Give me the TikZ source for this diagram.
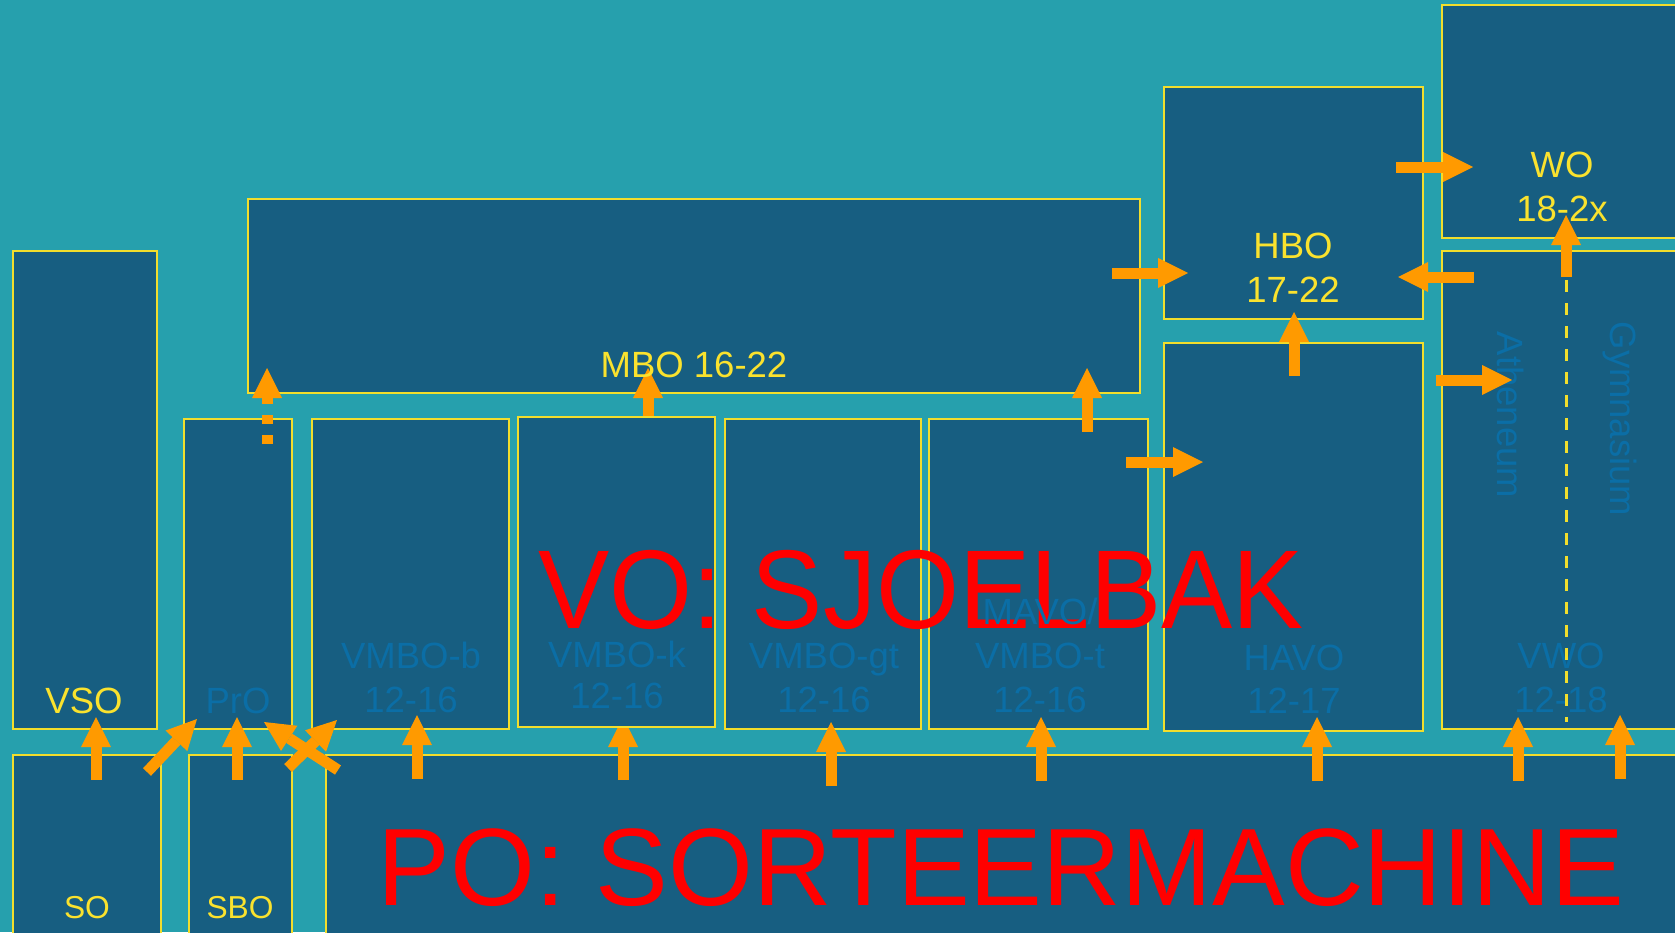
\documentclass[tikz,border=0pt]{standalone}
\usepackage{fontspec}
\setmainfont{Liberation Sans}
\usetikzlibrary{arrows.meta}
\definecolor{bg}{HTML}{26A0AD}
\definecolor{boxblue}{HTML}{175E81}
\definecolor{edgeyellow}{HTML}{F2DE2C}
\definecolor{txtyellow}{HTML}{FAE22E}
\definecolor{arroworange}{HTML}{FF9A00}
\definecolor{faintblue}{HTML}{0B6EA6}
\definecolor{bigred}{HTML}{FF0000}
\begin{document}
\begin{tikzpicture}[x=1pt,y=-1pt,
  box/.style={draw=edgeyellow, fill=boxblue, line width=1.6pt, rectangle, inner sep=0pt, outer sep=0pt, anchor=north west},
  thickbox/.style={box, line width=2.8pt},
  arr/.style={draw=arroworange, line width=11pt, -{Triangle[width=30pt,length=30pt,line width=0pt]}},
  dasharr/.style={arr, dash pattern=on 9pt off 11pt},
  ydash/.style={draw=edgeyellow, line width=3pt, dash pattern=on 12pt off 11pt},
  lbl/.style={inner sep=0pt, outer sep=0pt, anchor=base, font=\fontsize{36.5}{40}\selectfont},
  ylbl/.style={lbl, text=txtyellow},
  slbl/.style={ylbl, font=\fontsize{31.7}{36}\selectfont},
  flbl/.style={lbl, text=faintblue},
  redlbl/.style={inner sep=0pt, outer sep=0pt, anchor=base, text=bigred}
]
\clip (0,0) rectangle (1675,932);
\fill[bg] (0,0) rectangle (1675,932);

% boxes
\node[box, minimum width=144pt, minimum height=478pt] (vso) at (13,251) {};
\node[box, minimum width=108pt, minimum height=310pt] (pro) at (184,419) {};
\node[box, minimum width=197pt, minimum height=310pt] (vmbob) at (312,419) {};
\node[box, minimum width=196pt, minimum height=310pt] (vmbogt) at (725,419) {};
\node[box, minimum width=219pt, minimum height=310pt] (vmbot) at (929,419) {};
\node[box, minimum width=259pt, minimum height=388pt] (havo) at (1164,343) {};
\node[box, minimum width=258pt, minimum height=478pt] (vwo) at (1442,251) {};
\node[box, minimum width=892pt, minimum height=194pt] (mbo) at (248,199) {};
\node[box, minimum width=259pt, minimum height=232pt] (hbo) at (1164,87) {};
\node[box, minimum width=258pt, minimum height=233pt] (wo) at (1442,5) {};
\node[thickbox, minimum width=148pt, minimum height=195pt] (so) at (13,755) {};
\node[thickbox, minimum width=103pt, minimum height=195pt] (sbo) at (189,755) {};
\node[box, line width=1.8pt, minimum width=1374pt, minimum height=195pt] (po) at (326,755) {};

% arrows hidden partly under VMBO-k
\coordinate (a7s) at (623,780);  \coordinate (a7e) at (623,717);
\coordinate (a14s) at (648,430); \coordinate (a14e) at (648,368);
\draw[arr] (a7s) -- (a7e);
\draw[arr] (a14s) -- (a14e);
\node[box, minimum width=197pt, minimum height=310pt] (vmbok) at (518,417) {};

% big red texts
\node[redlbl, font=\fontsize{112}{120}\selectfont, xscale=0.953] (votxt) at (921,628) {VO: SJOELBAK};
\node[redlbl, font=\fontsize{110}{120}\selectfont, xscale=0.992] (potxt) at (1001,905) {PO: SORTEERMACHINE};

% faint labels
\node[flbl] (l1) at (238,713) {PrO};
\node[flbl] (l2) at (411,668) {VMBO-b};
\node[flbl] (l3) at (411,712) {12-16};
\node[flbl] (l4) at (617,667) {VMBO-k};
\node[flbl] (l5) at (617,708) {12-16};
\node[flbl] (l6) at (824,668) {VMBO-gt};
\node[flbl] (l7) at (824,712) {12-16};
\node[flbl] (l8) at (1040,624) {MAVO/};
\node[flbl] (l9) at (1040,668) {VMBO-t};
\node[flbl] (l10) at (1040,712) {12-16};
\node[flbl] (l11) at (1294,670) {HAVO};
\node[flbl] (l12) at (1294,713) {12-17};
\node[flbl] (l13) at (1561,668) {VWO};
\node[flbl] (l14) at (1561,712) {12-18};
\node[flbl, rotate=-90] (l15) at (1497,415) {Atheneum};
\node[flbl, rotate=-90] (l16) at (1610,419) {Gymnasium};

% yellow labels
\node[ylbl] (y1) at (84,713) {VSO};
\node[slbl] (y2) at (87,918) {SO};
\node[slbl] (y3) at (240,918) {SBO};
\node[ylbl] (y4) at (694,377) {MBO 16-22};
\node[ylbl] (y5) at (1293,258) {HBO};
\node[ylbl] (y6) at (1293,302) {17-22};
\node[ylbl] (y7) at (1562,177) {WO};
\node[ylbl] (y8) at (1562,221) {18-2x};

% arrow end points
\coordinate (a1s) at (96,780);   \coordinate (a1e) at (96,717);
\coordinate (a2s) at (147,772);  \coordinate (a2e) at (197,719);
\coordinate (a3s) at (237,780);  \coordinate (a3e) at (237,717);
\coordinate (a4s) at (338,770);  \coordinate (a4e) at (264,722);
\coordinate (a5s) at (288,768);  \coordinate (a5e) at (337,720);
\coordinate (a6s) at (417,779);  \coordinate (a6e) at (417,715);
\coordinate (a8s) at (831,786);  \coordinate (a8e) at (831,722);
\coordinate (a9s) at (1041,781); \coordinate (a9e) at (1041,717);
\coordinate (a10s) at (1317,781); \coordinate (a10e) at (1317,717);
\coordinate (a11s) at (1518,781); \coordinate (a11e) at (1518,717);
\coordinate (a12s) at (1620,779); \coordinate (a12e) at (1620,715);
\coordinate (a13s) at (267,444); \coordinate (a13e) at (267,368);
\coordinate (a15s) at (1087,432); \coordinate (a15e) at (1087,368);
\coordinate (a16s) at (1126,462); \coordinate (a16e) at (1203,462);
\coordinate (a17s) at (1112,273); \coordinate (a17e) at (1188,273);
\coordinate (a18s) at (1294,376); \coordinate (a18e) at (1294,312);
\coordinate (a19s) at (1396,167); \coordinate (a19e) at (1473,167);
\coordinate (a20s) at (1474,277); \coordinate (a20e) at (1398,277);
\coordinate (a21s) at (1566,277); \coordinate (a21e) at (1566,215);
\coordinate (a22s) at (1436,380); \coordinate (a22e) at (1512,380);
\coordinate (d1) at (1566,280); \coordinate (d2) at (1566,722);

\draw[ydash] (d1) -- (d2);
\foreach \i in {1,2,3,4,5,6,8,9,10,11,12,15,16,17,18,19,20,21,22}
  {\draw[arr] (a\i s) -- (a\i e);}
\draw[dasharr] (a13s) -- (a13e);
\end{tikzpicture}
\end{document}
